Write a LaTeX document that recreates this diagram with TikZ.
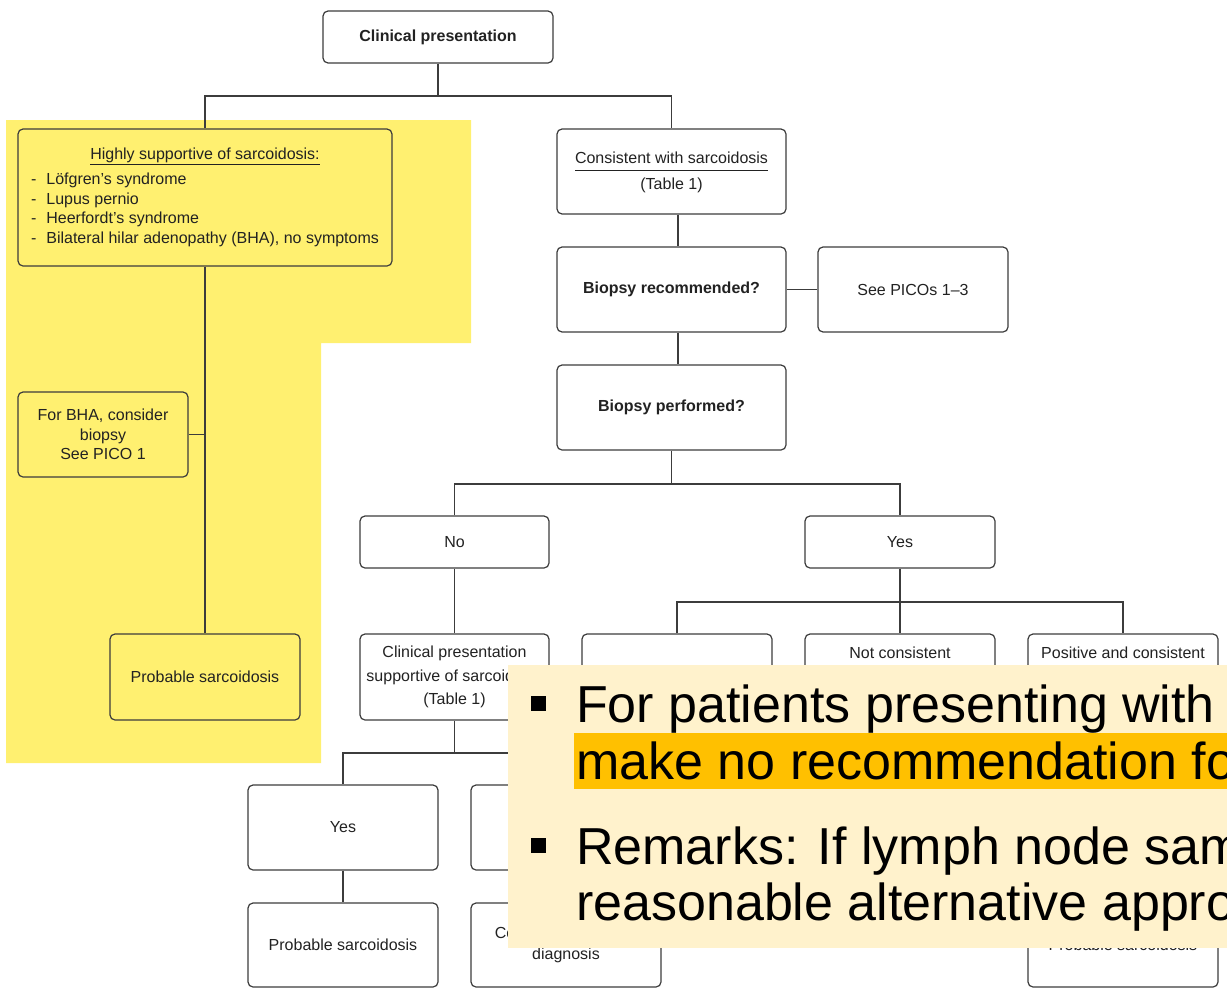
\documentclass[tikz,border=0pt]{standalone}
\usepackage{fontspec}
\setmainfont{Liberation Sans}
\definecolor{linec}{RGB}{60,60,60}
\definecolor{txtc}{RGB}{34,34,34}
\definecolor{hlyellow}{RGB}{255,240,112}
\definecolor{cream}{RGB}{255,242,204}
\definecolor{markorange}{RGB}{255,192,0}
\newcommand\diagfont{\fontsize{16pt}{19.5pt}\selectfont}
\newcommand\bigfont{\fontsize{52pt}{56pt}\selectfont}
\begin{document}
\begin{tikzpicture}[x=1pt,y=-1pt,
  box/.style={draw=linec, line width=1.2pt, rounded corners=5pt, align=center,
    inner sep=0pt, font=\diagfont, text=txtc},
  lbl/.style={inner sep=0pt, font=\diagfont, text=txtc},
  conn/.style={draw=linec, line width=1.1pt},
  ovl/.style={inner sep=0pt, font=\bigfont, text=black, anchor=base west}]

\useasboundingbox (0,0) rectangle (1227,988);
\clip (0,0) rectangle (1227,988);
\fill[white] (0,0) rectangle (1227,988);

% highlighted branch
\fill[hlyellow] (6,120) -- (471,120) -- (471,343) -- (321,343) -- (321,763) -- (6,763) -- cycle;

% nodes
\node[box, minimum width=230pt, minimum height=52pt] (cp) at (438,37) {\textbf{Clinical presentation}};

\node[box, minimum width=374pt, minimum height=137pt] (hs) at (205,197.5)
  {\begin{tabular}{@{}l@{\hspace{10pt}}l@{}}
   \multicolumn{2}{c}{\underline{Highly supportive of sarcoidosis:}}\\[5.5pt]
   -&Löfgren’s syndrome\\
   -&Lupus pernio\\
   -&Heerfordt’s syndrome\\
   -&Bilateral hilar adenopathy (BHA), no symptoms
   \end{tabular}};
\node[box, minimum width=170pt, minimum height=85pt] (bha) at (103,434.5)
  {For BHA, consider\\biopsy\\See PICO 1};
\node[box, minimum width=190pt, minimum height=86pt] (ps1) at (205,677) {Probable sarcoidosis};

\node[box, minimum width=229pt, minimum height=85pt] (cons) at (671.5,171.5)
  {\underline{\strut Consistent with sarcoidosis}\\[7pt](Table 1)};
\node[box, minimum width=229pt, minimum height=85pt] (brec) at (671.5,289.5) {\textbf{Biopsy recommended?}};
\node[box, minimum width=190pt, minimum height=85pt] (picos) at (913,289.5) {See PICOs 1–3};
\node[box, minimum width=229pt, minimum height=85pt] (bperf) at (671.5,407.5) {\textbf{Biopsy performed?}};

\node[box, minimum width=189pt, minimum height=52pt] (no) at (454.5,542) {No};
\node[box, minimum width=190pt, minimum height=52pt] (yes1) at (900,542) {Yes};

\node[box, minimum width=189pt, minimum height=86pt] (cps) at (454.5,677)
  {Clinical presentation\\[4pt]supportive of sarcoidosis\\[4pt](Table 1)};
\node[box, minimum width=190pt, minimum height=86pt] (blank) at (677,677) {};
\node[box, minimum width=190pt, minimum height=86pt] (notc) at (900,677) {};
\node[lbl] (notct) at (900,653) {Not consistent};
\node[box, minimum width=190pt, minimum height=86pt] (posc) at (1123,677) {};
\node[lbl] (posct) at (1123,653) {Positive and consistent};

\node[box, minimum width=190pt, minimum height=85pt] (yes2) at (343,827.5) {Yes};
\node[box, minimum width=190pt, minimum height=85pt] (hid) at (566,827.5) {};
\node[box, minimum width=190pt, minimum height=84pt] (ps2) at (343,945) {Probable sarcoidosis};
\node[box, minimum width=190pt, minimum height=84pt] (cad) at (566,945)
  {Consider alternative\\[1.5pt]diagnosis};
\node[box, minimum width=190pt, minimum height=84pt] (ps3) at (1123,945) {Probable sarcoidosis};

% connectors
\coordinate (j1) at (438,96);
\coordinate (x678) at (678,0);
\coordinate (j3) at (671.5,484);
\coordinate (j4) at (900,602);
\coordinate (j5) at (454.5,753);

\draw[conn] (cp.south) -- (j1);
\draw[conn] (hs.north) |- (j1) -| (cons.north);
\draw[conn] (hs.south) -- (ps1.north);
\draw[conn] (bha.east) -- (bha.east -| hs.south);
\draw[conn] (cons.south -| x678) -- (brec.north -| x678);
\draw[conn] (brec.east) -- (picos.west);
\draw[conn] (brec.south -| x678) -- (bperf.north -| x678);
\draw[conn] (bperf.south) -- (j3);
\draw[conn] (no.north) |- (j3) -| (yes1.north);
\draw[conn] (yes1.south) -- (notc.north);
\draw[conn] (blank.north) |- (j4) -| (posc.north);
\draw[conn] (no.south) -- (cps.north);
\draw[conn] (cps.south) -- (j5);
\draw[conn] (yes2.north) |- (j5) -| (hid.north);
\draw[conn] (yes2.south) -- (ps2.north);
\draw[conn] (hid.south) -- (cad.north);
\draw[conn] (posc.south) -- (ps3.north);

% recommendation panel laid over the chart
\fill[cream] (508,665) rectangle (1227,948);
\fill[markorange] (574,733) rectangle (1227,789);
\fill[black] (531,696) rectangle (546,711);
\fill[black] (531,838) rectangle (546,853);
\node[ovl] (r1) at (576,722) {For patients presenting with};
\node[ovl] (r2) at (576,779) {make no recommendation for};
\node[ovl] (r3) at (576,864) {Remarks: If lymph node sampling};
\node[ovl] (r4) at (576,920) {reasonable alternative approach};
\end{tikzpicture}
\end{document}
